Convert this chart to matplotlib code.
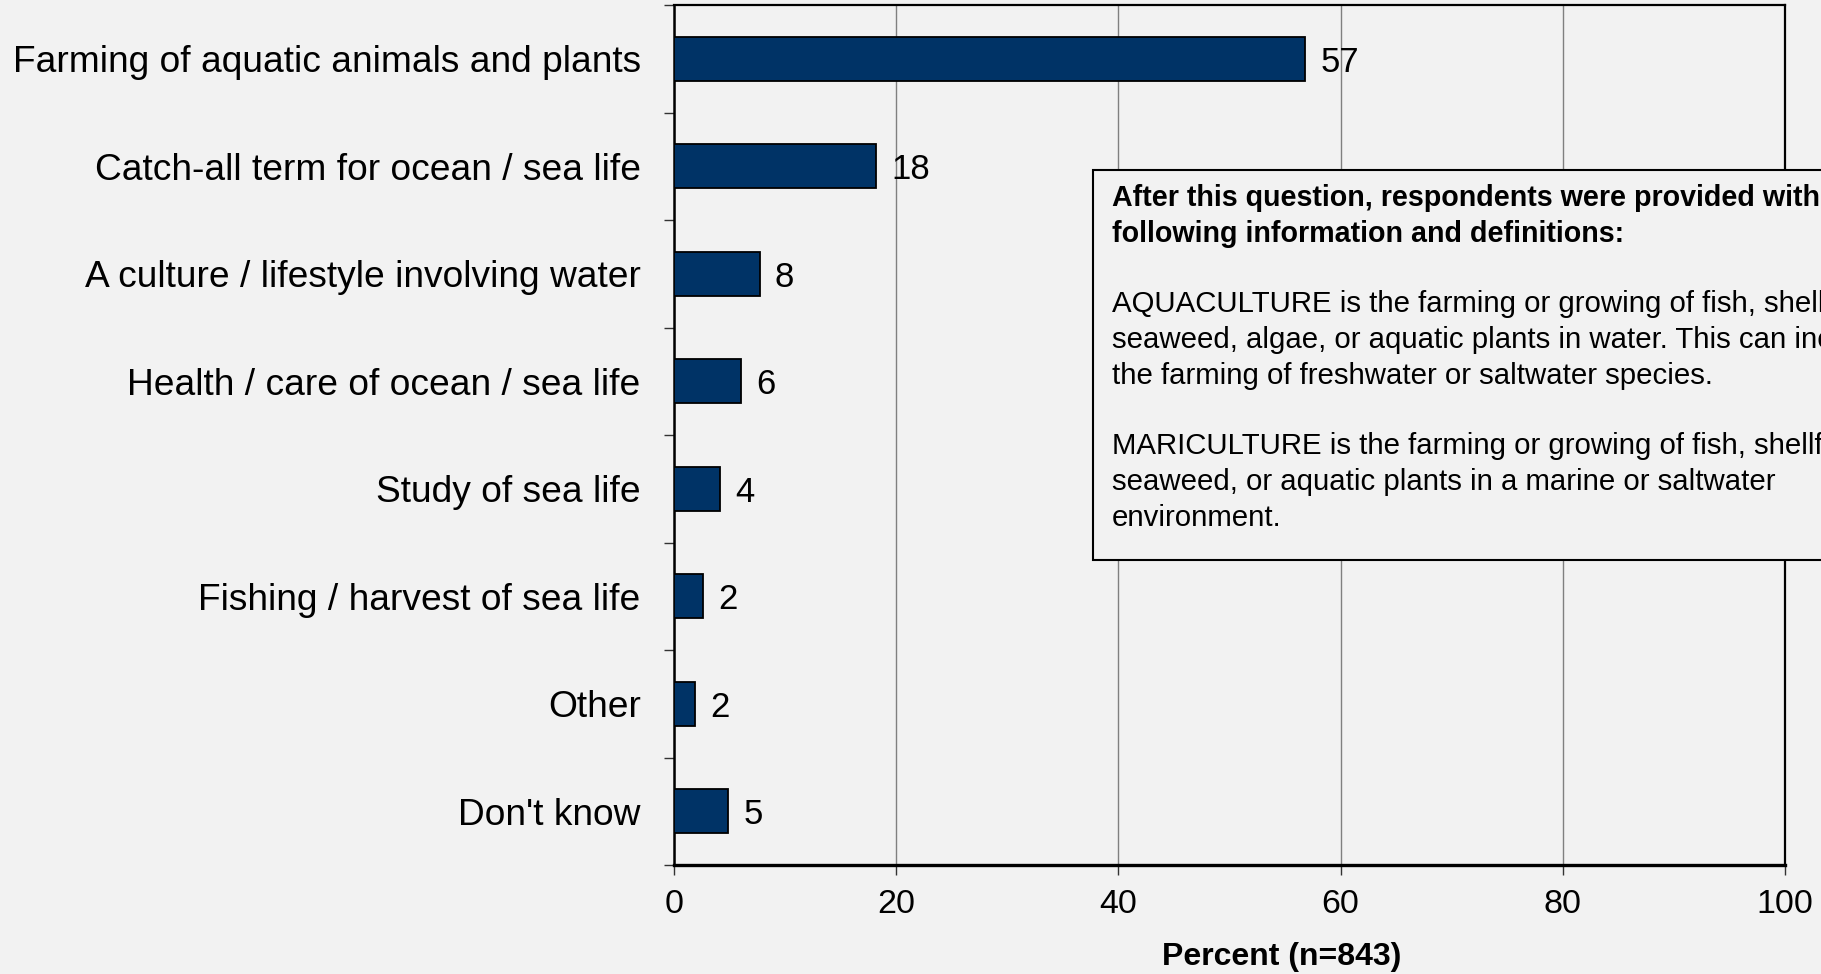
import numpy as np
import matplotlib.pyplot as plt
from matplotlib.patches import Rectangle

plt.rcParams['font.family'] = ['Liberation Sans', 'DejaVu Sans']

categories = ['Farming of aquatic animals and plants',
              'Catch-all term for ocean / sea life',
              'A culture / lifestyle involving water',
              'Health / care of ocean / sea life',
              'Study of sea life',
              'Fishing / harvest of sea life',
              'Other',
              "Don't know"]
percent = [56.8, 18.2, 7.7, 6.0, 4.1, 2.6, 1.9, 4.9]
value_labels = ['57', '18', '8', '6', '4', '2', '2', '5']
x_ticks = [0, 20, 40, 60, 80, 100]

note_header = ['After this question, respondents were provided with the',
               'following information and definitions:']
note_body = ['',
             'AQUACULTURE is the farming or growing of fish, shellfish,',
             'seaweed, algae, or aquatic plants in water. This can include',
             'the farming of freshwater or saltwater species.',
             '',
             'MARICULTURE is the farming or growing of fish, shellfish,',
             'seaweed, or aquatic plants in a marine or saltwater',
             'environment.']

bg = '#f2f2f2'
W, H = 1821, 974
fig = plt.figure(figsize=(W / 100, H / 100), dpi=100, facecolor=bg)
ax = fig.add_axes([674 / W, 1 - 865 / H, 1111 / W, 860 / H], facecolor=bg)

y = np.arange(len(categories))
ax.barh(y, percent, height=0.41, color='#003366', edgecolor='black', linewidth=1.3, zorder=3)
for yi, v, lab in zip(y, percent, value_labels):
    ax.annotate(lab, (v, yi), xytext=(11, 0), textcoords='offset points',
                va='center_baseline', ha='left', fontsize=25, zorder=4)

ax.set_xlim(0, 100)
ax.set_ylim(len(categories) - 0.5, -0.5)
ax.set_xticks(x_ticks)
ax.set_xticklabels([str(t) for t in x_ticks], fontsize=24.5)
ax.set_yticks(y)
ax.set_yticklabels(categories, fontsize=26.7)
ax.set_yticks(np.arange(len(categories) + 1) - 0.5, minor=True)
ax.tick_params(axis='y', which='major', length=0, pad=24)
ax.tick_params(axis='y', which='minor', length=7, width=1, color='#333333')
ax.tick_params(axis='x', length=7, width=1, pad=10, color='#333333')
ax.grid(axis='x', color='#808080', linewidth=1, zorder=0)
for s in ['top', 'right']:
    ax.spines[s].set_linewidth(1.6)
ax.spines['left'].set_linewidth(1.8)
ax.spines['bottom'].set_linewidth(2.4)
ax.set_xlabel('Percent (n=843)', fontsize=23, fontweight='bold')
ax.xaxis.set_label_coords(0.547, -0.107)
ax.xaxis.label.set_va('center')

# note box (runs off the right edge like the original)
fig.patches.append(Rectangle((1093 / W, 1 - 560 / H), 0.5, 390 / H, transform=fig.transFigure,
                             facecolor=bg, edgecolor='black', linewidth=1.5, zorder=5))
lines = [(t, 'bold', 20.6) for t in note_header] + [(t, 'normal', 21.2) for t in note_body]
for i, (t, w, fs) in enumerate(lines):
    fig.text(1112 / W, 1 - (198 + 35.5 * i) / H, t, fontsize=fs, fontweight=w,
             va='center', ha='left', zorder=6)

fig.savefig('out.png', dpi=100, facecolor=bg)
